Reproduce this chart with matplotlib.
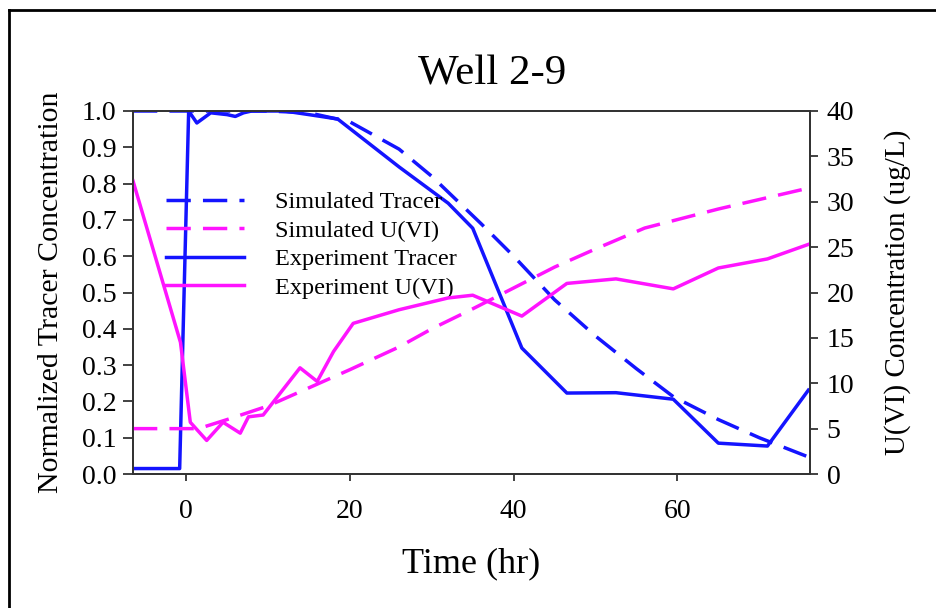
import matplotlib
matplotlib.use("Agg")
import matplotlib.pyplot as plt
from matplotlib.lines import Line2D

plt.rcParams['font.family'] = ['Liberation Serif', 'DejaVu Serif']

# Data (time in hr)
sim_tracer_t = [-6.5, 10, 15, 20, 26, 30, 36, 40, 45, 50, 55, 59.5, 65, 70, 76]
sim_tracer_c = [1.0, 1.0, 0.995, 0.97, 0.895, 0.82, 0.69, 0.60, 0.48, 0.38, 0.29, 0.213, 0.15, 0.10, 0.047]

sim_u_t = [-6.5, 1.5, 5, 10, 15, 20, 26, 30, 35, 40, 45, 50, 56, 65, 76]
sim_u_c = [5.0, 5.0, 6.0, 7.5, 9.5, 11.5, 14.0, 16.0, 18.2, 20.5, 22.8, 24.8, 27.1, 29.2, 31.5]

exp_tracer_t = [-6.5, -0.8, 0.3, 1.3, 3, 5, 6, 7, 8, 12, 15, 18.5, 26, 32, 35, 41, 46.5, 52.5, 59.5, 65, 71, 76]
exp_tracer_c = [0.015, 0.015, 1.0, 0.967, 0.995, 0.99, 0.985, 0.995, 1.0, 1.0, 0.99, 0.978, 0.846, 0.746, 0.677, 0.347, 0.223, 0.224, 0.206, 0.085, 0.077, 0.231]

exp_u_t = [-6.5, -0.7, 0.5, 2.5, 4.5, 6.6, 7.6, 9.4, 13.9, 16, 18, 20.4, 26, 32, 35, 41, 46.5, 52.5, 59.5, 65, 71, 76]
exp_u_c = [32.3, 14.5, 5.7, 3.7, 5.7, 4.5, 6.3, 6.5, 11.7, 10.2, 13.5, 16.6, 18.1, 19.4, 19.7, 17.4, 21.0, 21.5, 20.4, 22.7, 23.7, 25.3]

blue = '#1414ff'
magenta = '#ff14ff'

W, H = 937, 608
fig = plt.figure(figsize=(W / 100, H / 100), dpi=100)
ax = fig.add_axes([133 / W, 1 - 474 / H, (810 - 133) / W, (474 - 111) / H])
ax2 = ax.twinx()

dash = (0, (7, 3.5))
l1, = ax.plot(sim_tracer_t, sim_tracer_c, color=blue, lw=2.5, ls=dash)
l3, = ax.plot(exp_tracer_t, exp_tracer_c, color=blue, lw=2.5)
l2, = ax2.plot(sim_u_t, sim_u_c, color=magenta, lw=2.5, ls=dash)
l4, = ax2.plot(exp_u_t, exp_u_c, color=magenta, lw=2.5)

ax.set_xlim(-6.5, 76.2)
ax.set_ylim(0, 1.0)
ax2.set_ylim(0, 40)
ax.set_xticks([0, 20, 40, 60])
ax.set_yticks([i / 10 for i in range(11)])
ax.set_yticklabels([f'{i/10:.1f}' for i in range(11)])
ax2.set_yticks(range(0, 41, 5))

for a in (ax, ax2):
    for s in a.spines.values():
        s.set_color('#333333')
        s.set_linewidth(1.3)
ax.tick_params(axis='x', direction='out', length=5, width=1.3, labelsize=20, color='#333333', pad=13)
ax.tick_params(axis='y', direction='out', length=7, width=1.3, labelsize=20, color='#333333', pad=5)
ax2.tick_params(axis='y', direction='out', length=6, width=1.3, labelsize=20, color='#333333', pad=6)

ax.set_xlabel('Time (hr)', fontsize=26, labelpad=17)
ax.set_ylabel('Normalized Tracer Concentration', fontsize=21.5, labelpad=13)
ax2.set_ylabel('U(VI) Concentration (ug/L)', fontsize=21, labelpad=21)
fig.text(492 / W, 1 - 74 / H, 'Well 2-9', fontsize=31, ha='center', va='center')

leg = ax.legend([l1, l2, l3, l4], ['Simulated Tracer', 'Simulated U(VI)', 'Experiment Tracer', 'Experiment U(VI)'],
                loc='upper left', bbox_to_anchor=(166 / W, 1 - 191 / H), bbox_transform=fig.transFigure,
                frameon=False, fontsize=17.5, borderpad=0, borderaxespad=0,
                handlelength=3.2, handletextpad=1.3, labelspacing=0.27)

# outer border (left and top)
fig.add_artist(Line2D([9 / W, 9 / W], [0, 1 - 10 / H], transform=fig.transFigure, color='black', lw=2))
fig.add_artist(Line2D([9 / W, 1], [1 - 10 / H, 1 - 10 / H], transform=fig.transFigure, color='black', lw=2))

fig.savefig('out.png', dpi=100)
